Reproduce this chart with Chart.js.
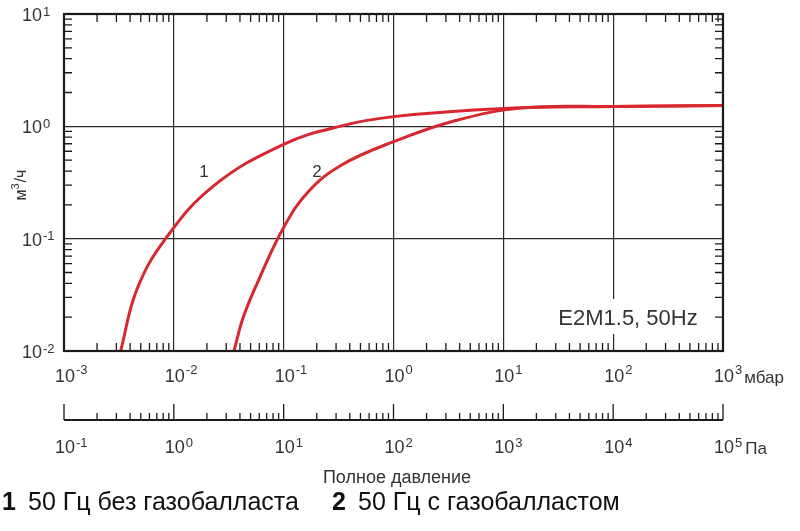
<!DOCTYPE html>
<html lang="ru">
<head>
<meta charset="UTF-8">
<title>E2M1.5, 50Hz</title>
<script src="https://cdn.jsdelivr.net/npm/chart.js"></script>
<style>
    body { margin: 0; background: #fff; }
    .wrap { width: 800px; height: 531px; position: relative; }
</style>
</head>
<body>
<div class="wrap"><canvas id="pumpChart"></canvas></div>
<script>
    // Кривая 1: 50 Гц без газобалласта (давление, мбар -> быстрота откачки, м3/ч)
    const pressure1 = [3.28e-3, 4.59e-3, 8.32e-3, 0.0229, 0.1, 0.337, 1, 10, 100, 1000];
    const speed1    = [0.01, 0.0349, 0.0986, 0.294, 0.692, 1.01, 1.22, 1.44, 1.50, 1.53];
    // Кривая 2: 50 Гц с газобалластом
    const pressure2 = [0.0353, 0.043, 0.061, 0.1, 0.1675, 0.337, 1, 3.63, 15.1, 100, 1000];
    const speed2    = [0.01, 0.0202, 0.0458, 0.126, 0.262, 0.453, 0.73, 1.122, 1.46, 1.50, 1.53];

    // Деления осей (показатели степени)
    const mbarExp = [-3, -2, -1, 0, 1, 2, 3];
    const paExp = [-1, 0, 1, 2, 3, 4, 5];
    const flowExp = [-2, -1, 0, 1];

    const FONT = "'Liberation Sans', Arial, sans-serif";
    const RED = '#d6282e';

    function toPoints(xs, ys) {
        return xs.map((x, i) => ({ x: x, y: ys[i] }));
    }

    function decadeTicks(exps) {
        return exps.map(e => ({ value: Math.pow(10, e) }));
    }

    // "10" + показатель степени
    function drawPow(ctx, x, y, exp, size, raise, align) {
        ctx.textBaseline = 'middle';
        ctx.font = size + 'px ' + FONT;
        const w = ctx.measureText('10').width;
        let left = align === 'right' ? x - w : x - w / 2;
        ctx.textAlign = 'left';
        ctx.fillText('10', left, y);
        ctx.font = Math.round(size * 0.7) + 'px ' + FONT;
        ctx.fillText(String(exp), left + w + 1, y - raise);
        return left + w + 1 + ctx.measureText(String(exp)).width;
    }

    const decoration = {
        id: 'decoration',
        afterDraw(chart) {
            const ctx = chart.ctx;
            const xs = chart.scales.x, ys = chart.scales.y;
            const a = chart.chartArea;
            ctx.save();
            ctx.strokeStyle = '#1a1a1a';
            ctx.fillStyle = '#333';

            // мелкие деления по всем сторонам
            ctx.lineWidth = 1.3;
            ctx.beginPath();
            for (let e = mbarExp[0]; e < mbarExp[mbarExp.length - 1]; e++) {
                for (let m = 2; m <= 9; m++) {
                    const px = xs.getPixelForValue(m * Math.pow(10, e));
                    ctx.moveTo(px, a.bottom); ctx.lineTo(px, a.bottom - 8);
                    ctx.moveTo(px, a.top); ctx.lineTo(px, a.top + 8);
                }
            }
            for (let e = flowExp[0]; e < flowExp[flowExp.length - 1]; e++) {
                for (let m = 2; m <= 9; m++) {
                    const py = ys.getPixelForValue(m * Math.pow(10, e));
                    ctx.moveTo(a.left, py); ctx.lineTo(a.left + 8, py);
                    ctx.moveTo(a.right, py); ctx.lineTo(a.right - 8, py);
                }
            }
            ctx.stroke();

            // рамка
            ctx.lineWidth = 2.2;
            ctx.strokeRect(a.left, a.top, a.right - a.left, a.bottom - a.top);

            // подписи оси мбар
            mbarExp.forEach(e => {
                const px = xs.getPixelForValue(Math.pow(10, e));
                const end = drawPow(ctx, px + 1, 377, e, 18, 7, 'center');
                if (e === 3) {
                    ctx.font = '17px ' + FONT;
                    ctx.fillText('мбар', end + 2, 378);
                }
            });

            // подписи оси м3/ч
            flowExp.forEach(e => {
                const py = ys.getPixelForValue(Math.pow(10, e));
                drawPow(ctx, 42, py + 2, e, 18, 4, 'right');
            });

            // вторая ось, Па
            const axisY = 420;
            ctx.lineWidth = 2.2;
            ctx.beginPath();
            ctx.moveTo(a.left, axisY); ctx.lineTo(a.right, axisY);
            ctx.stroke();
            ctx.lineWidth = 1.3;
            ctx.beginPath();
            paExp.forEach((e, i) => {
                const px = xs.getPixelForValue(Math.pow(10, e) / 100);
                ctx.moveTo(px, axisY); ctx.lineTo(px, axisY - 16);
                if (i < paExp.length - 1) {
                    for (let m = 2; m <= 9; m++) {
                        const mx = xs.getPixelForValue(m * Math.pow(10, e) / 100);
                        ctx.moveTo(mx, axisY); ctx.lineTo(mx, axisY - 7);
                    }
                }
            });
            ctx.stroke();
            paExp.forEach(e => {
                const px = xs.getPixelForValue(Math.pow(10, e) / 100);
                const end = drawPow(ctx, px + 1, 448, e, 18, 5, 'center');
                if (e === 5) {
                    ctx.font = '17px ' + FONT;
                    ctx.fillText('Па', end + 3, 449);
                }
            });

            // заголовки осей
            ctx.font = '18px ' + FONT;
            ctx.textAlign = 'center';
            ctx.textBaseline = 'middle';
            ctx.fillText('Полное давление', 397, 478);

            ctx.save();
            ctx.translate(22, 185);
            ctx.rotate(-Math.PI / 2);
            ctx.font = '16px ' + FONT;
            const wM = ctx.measureText('м').width;
            const wCh = ctx.measureText('/ч').width;
            const total = wM + 7 + wCh;
            ctx.textAlign = 'left';
            ctx.fillText('м', -total / 2, 0);
            ctx.font = '11px ' + FONT;
            ctx.fillText('3', -total / 2 + wM, -6);
            ctx.font = '16px ' + FONT;
            ctx.fillText('/ч', -total / 2 + wM + 7, 0);
            ctx.restore();

            // номера кривых
            ctx.font = '17px ' + FONT;
            ctx.textAlign = 'center';
            ctx.fillText('1', 204, 172);
            ctx.fillText('2', 317, 172);

            // подпись модели
            ctx.fillStyle = '#fff';
            ctx.fillRect(554, 299, 148, 35);
            ctx.fillStyle = '#333';
            ctx.font = '22px ' + FONT;
            ctx.fillText('E2M1.5, 50Hz', 628, 319);

            // легенда
            ctx.textAlign = 'left';
            ctx.fillStyle = '#111';
            ctx.font = 'bold 25px ' + FONT;
            ctx.fillText('1', 2, 503);
            ctx.fillText('2', 332, 503);
            ctx.font = '25px ' + FONT;
            ctx.fillText('50 Гц без газобалласта', 28, 503);
            ctx.fillText('50 Гц с газобалластом', 358, 503);

            ctx.restore();
        }
    };

    new Chart(document.getElementById('pumpChart'), {
        type: 'scatter',
        data: {
            datasets: [
                {
                    label: '50 Гц без газобалласта',
                    data: toPoints(pressure1, speed1),
                    showLine: true,
                    borderColor: RED,
                    borderWidth: 3,
                    pointRadius: 0,
                    tension: 0.4
                },
                {
                    label: '50 Гц с газобалластом',
                    data: toPoints(pressure2, speed2),
                    showLine: true,
                    borderColor: RED,
                    borderWidth: 3,
                    pointRadius: 0,
                    tension: 0.4
                }
            ]
        },
        options: {
            responsive: true,
            maintainAspectRatio: false,
            animation: false,
            layout: { padding: { left: 64, top: 14, right: 77, bottom: 180 } },
            plugins: { legend: { display: false }, tooltip: { enabled: false } },
            scales: {
                x: {
                    type: 'logarithmic',
                    min: 1e-3,
                    max: 1e3,
                    afterBuildTicks: s => { s.ticks = decadeTicks(mbarExp); },
                    ticks: { display: false },
                    grid: { color: '#2a2a2a', lineWidth: 1.2, drawTicks: false },
                    border: { display: false }
                },
                y: {
                    type: 'logarithmic',
                    min: 1e-2,
                    max: 1e1,
                    afterBuildTicks: s => { s.ticks = decadeTicks(flowExp); },
                    ticks: { display: false },
                    grid: { color: '#2a2a2a', lineWidth: 1.2, drawTicks: false },
                    border: { display: false }
                }
            }
        },
        plugins: [decoration]
    });
</script>
</body>
</html>
